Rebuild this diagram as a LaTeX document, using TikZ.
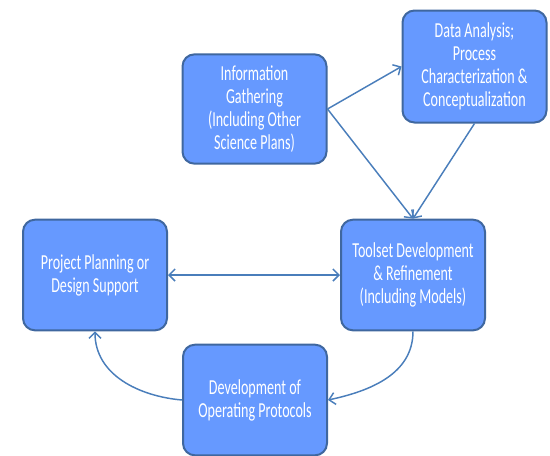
\documentclass[tikz,border=0pt]{standalone}
\usepackage{fontspec}
\setmainfont{Carlito}
\usetikzlibrary{arrows.meta}
\definecolor{boxfill}{HTML}{6699FF}
\definecolor{boxline}{HTML}{3F679F}
\definecolor{linkcol}{HTML}{4A7EBB}
\newfontfamily\boxfont[FakeStretch=0.66]{Carlito}
\begin{document}
\begin{tikzpicture}[x=0.75pt,y=-0.75pt,
  stagebox/.style={draw=boxline, line width=1.5pt, fill=boxfill, rounded corners=9pt,
    minimum width=108pt, minimum height=83pt, align=center, text=white,
    font=\boxfont\fontsize{16pt}{17.25pt}\selectfont, inner sep=2pt},
  link/.style={draw=linkcol, line width=1.1pt,
    -{Straight Barb[length=4.5pt,width=9pt,line width=1.1pt]}},
  twoway/.style={draw=linkcol, line width=1.1pt,
    {Straight Barb[length=4.5pt,width=9pt,line width=1.1pt]}-{Straight Barb[length=4.5pt,width=9pt,line width=1.1pt]}}]
\useasboundingbox (0,0) rectangle (550,455);

\node[stagebox, minimum height=82pt] (info) at (254.5,109) {Information\\Gathering\\(Including Other\\Science Plans)};
\node[stagebox, minimum height=84pt] (data) at (474.5,66.5) {Data Analysis;\\Process\\Characterization \&\\Conceptualization};
\node[stagebox] (plan) at (95,275) {Project Planning or\\Design Support};
\node[stagebox] (tool) at (413,275) {Toolset Development\\\& Refinement\\(Including Models)};
\node[stagebox] (proto) at (255,400) {Development of\\Operating Protocols};

\draw[link] (info.east) -- (data.west);
\draw[link] (info.east) -- (tool.north);
\draw[link] (data.south) -- (tool.north);
\draw[twoway] (plan.east) -- (tool.west);
\draw[link] (tool.south) to[out=-90,in=12] (proto.east);
\draw[link] (proto.west) to[out=175,in=-90] (plan.south);
\end{tikzpicture}
\end{document}
